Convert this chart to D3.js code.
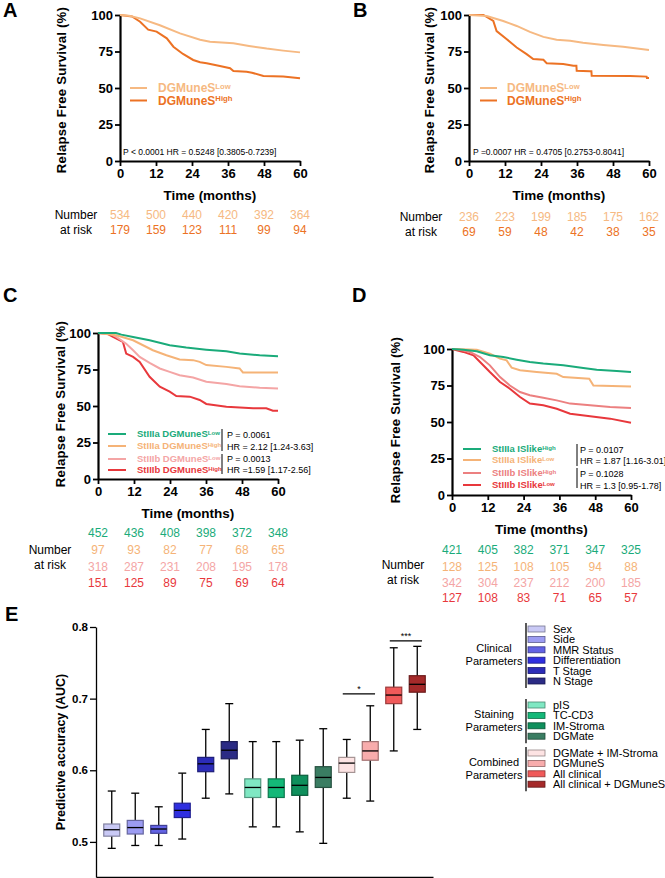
<!DOCTYPE html>
<html>
<head>
<meta charset="utf-8">
<script src="https://cdn.jsdelivr.net/npm/d3@7"></script>
<style>
body { margin: 0; background: #fff; }
svg { display: block; font-family: Arial, "Liberation Sans", sans-serif; }
</style>
</head>
<body>
<svg width="665" height="878"></svg>
<script>
// ---- data ----
const timeTicks = [0, 12, 24, 36, 48, 60];
const survTicks = [0, 25, 50, 75, 100];

// A
const aLow = [[0,100],[3,99.5],[6.7,97.7],[13.3,93],[20,87.4],[26.7,83],[30,81.7],[37.8,80.6],[43,78.8],[48.9,77],[54.4,75.6],[60,74.4]];
const aHigh = [[0,100],[4,99],[6.7,95.4],[9.4,90],[12.2,88.6],[15.6,84],[17.8,78.3],[21,73.3],[24.4,69.2],[26.7,67.6],[28.9,67],[33.3,65],[36.7,63.5],[37.8,61.6],[42.2,61.2],[44,60.5],[47.8,58.2],[54.4,57.8],[60,56.6]];
const aRiskLow = [534, 500, 440, 420, 392, 364];
const aRiskHigh = [179, 159, 123, 111, 99, 94];

// B
const bLow = [[0,100],[5.9,99.3],[11.4,95.9],[15.9,92.5],[20.3,88.4],[24.8,85],[29.2,83],[33.7,82.3],[38,81],[44.8,79.5],[51.4,78.2],[60,76]];
const bHigh = [[0,100],[4.8,100],[8.1,96],[9.2,89],[12.6,83.4],[15.9,77.7],[19.2,73.2],[21.4,69.8],[24.8,69.3],[25.9,67],[31.4,66.4],[34.8,65.2],[35.8,65.2],[35.9,61.8],[40.3,61.4],[40.8,61.4],[40.9,58.4],[53.7,58.2],[59.2,57.8],[59.3,56.8],[60,56.8]];
const bRiskLow = [236, 223, 199, 185, 175, 162];
const bRiskHigh = [69, 59, 48, 42, 38, 35];

// C
const cIIIaLow = [[0,100],[6,100],[7.8,98.9],[11.7,97.3],[17.2,95],[23.9,91.6],[29.4,90],[36.1,88.6],[42.8,87.5],[47.2,85.9],[53.9,84.8],[60,84.1]];
const cIIIaHigh = [[0,100],[6.1,98.4],[11.7,95],[15,91.6],[18.3,88.2],[22.8,84.8],[27.2,81.8],[31.7,81.4],[33.9,80.2],[36.1,78],[42.8,76.8],[47.2,75.7],[48.3,73],[60,73]];
const cIIIbLow = [[0,100],[4,99.5],[6.1,97.3],[9.4,92.7],[11.7,88.2],[13.9,83.6],[17.2,79.5],[20.6,75.7],[23.9,73.4],[27.2,71.1],[31.7,69.5],[36.1,66.6],[42.8,65],[47.2,63.6],[53.9,62.5],[60,62]];
const cIIIbHigh = [[0,100],[3,99.5],[5,97.3],[8.3,93.9],[9.4,85.9],[11.7,83.6],[13.9,80.2],[17.2,70],[20.6,63.2],[23.9,59.8],[26.1,56.8],[30.6,56.4],[33.9,54.1],[36.1,51.4],[42.8,49.5],[51.7,48.4],[56.1,48.4],[58.3,46.8],[60,46.8]];
const cRisk = [
  [452, 436, 408, 398, 372, 348],
  [97, 93, 82, 77, 68, 65],
  [318, 287, 231, 208, 195, 178],
  [151, 125, 89, 75, 69, 64]
];

// D
const dIIIaHigh = [[0,100],[3.8,99.5],[8.3,98.4],[12.7,95.7],[17.2,94.5],[21.7,92.7],[26.1,91.1],[30.6,90],[37.3,88.8],[44,87],[48.5,85.8],[55.2,84.9],[60,84.2]];
const dIIIaLow = [[0,100],[8.3,99.5],[12.7,96.8],[16.1,93.4],[18.3,92.2],[20,87.2],[22.8,85.4],[28.4,84.2],[35.1,83],[37.3,80.8],[46,79.6],[47.4,75],[60,74.4]];
const dIIIbHigh = [[0,100],[1.6,100],[6,98],[9.4,94.5],[12.7,88.8],[16.1,80.8],[19.4,75],[22.8,70.5],[26.1,68.3],[30.6,66.6],[35.1,64.8],[39.6,62.6],[46.3,61.4],[53,60.3],[60,59.6]];
const dIIIbLow = [[0,100],[3.8,98],[7.2,95.7],[9.4,91.1],[12.7,84.2],[16.1,77.4],[19.4,72.8],[22.8,67.1],[26.1,62.6],[30.6,61.4],[35.1,59.1],[39.6,55.7],[46.3,53.9],[53,52.3],[60,49.5]];
const dRisk = [
  [421, 405, 382, 371, 347, 325],
  [128, 125, 108, 105, 94, 88],
  [342, 304, 237, 212, 200, 185],
  [127, 108, 83, 71, 65, 57]
];

// E
const eCategories = ["Sex", "Side", "MMR Status", "Differentiation", "T Stage", "N Stage",
  "pIS", "TC-CD3", "IM-Stroma", "DGMate",
  "DGMate + IM-Stroma", "DGMuneS", "All clinical", "All clinical + DGMuneS"];
const eMin    = [0.491, 0.495, 0.495, 0.504, 0.561, 0.567, 0.521, 0.521, 0.514, 0.498, 0.561, 0.557, 0.627, 0.657];
const eQ1     = [0.508, 0.511, 0.512, 0.534, 0.598, 0.616, 0.562, 0.562, 0.565, 0.576, 0.597, 0.614, 0.693, 0.709];
const eMedian = [0.517, 0.520, 0.518, 0.544, 0.609, 0.628, 0.576, 0.576, 0.579, 0.590, 0.610, 0.627, 0.705, 0.720];
const eQ3     = [0.525, 0.530, 0.523, 0.554, 0.618, 0.640, 0.588, 0.588, 0.593, 0.605, 0.618, 0.640, 0.716, 0.732];
const eMax    = [0.571, 0.568, 0.549, 0.596, 0.657, 0.693, 0.640, 0.640, 0.642, 0.658, 0.643, 0.690, 0.771, 0.773];
const eTicks = [0.5, 0.6, 0.7, 0.8];
const eGroupNames = [["Clinical", "Parameters"], ["Staining", "Parameters"], ["Combined", "Parameters"]];
const eGroupSizes = [6, 4, 4];
const sigFrom = ["DGMate + IM-Stroma", "All clinical"];
const sigTo = ["DGMuneS", "All clinical + DGMuneS"];
const sigLevel = [0.7066, 0.7805];
const sigLabel = ["*", "***"];

// ---- styles ----
const orangeLow = "#f6b982", orangeHigh = "#ec7224";
const green = "#1aab7a", lightOrange = "#f5b377", pink = "#f4a5a5", salmon = "#ec8080", red = "#e8383c";
const eColors = ["#c9c9f5", "#9c9cf2", "#6262e4", "#2f2fe0", "#2c2cb8", "#2b2b85",
  "#7fe8c3", "#14b878", "#0f8f5c", "#3a7d62",
  "#fde3e3", "#f8acac", "#f05a5a", "#a52a2a"];

const svg = d3.select("svg");

function panelLetter(txt, x, y) {
  svg.append("text").attr("x", x).attr("y", y)
    .attr("font-size", 20).attr("font-weight", "bold").text(txt);
}

function drawKM(p) {
  const x = d3.scaleLinear().domain([0, 60]).range([p.x0, p.x1]);
  const y = d3.scaleLinear().domain([0, 100]).range([p.yBot, p.yTop]);
  const g = svg.append("g");

  const xAxis = g.append("g").attr("transform", `translate(0,${p.yBot})`)
    .call(d3.axisBottom(x).tickValues(timeTicks).tickSize(5).tickSizeOuter(0).tickPadding(3));
  const yAxis = g.append("g").attr("transform", `translate(${p.x0},0)`)
    .call(d3.axisLeft(y).tickValues(survTicks).tickSize(5).tickSizeOuter(0).tickPadding(2));
  [xAxis, yAxis].forEach(a => {
    a.select(".domain").attr("stroke-width", 2.2);
    a.selectAll(".tick line").attr("stroke-width", 1.8);
    a.selectAll(".tick text").attr("font-size", 13).attr("font-weight", "bold")
      .attr("font-family", "Arial, 'Liberation Sans', sans-serif").attr("fill", "#000");
  });

  g.append("text").attr("x", (p.x0 + p.x1) / 2).attr("y", p.yBot + 39)
    .attr("text-anchor", "middle").attr("font-size", 13.5).attr("font-weight", "bold")
    .text("Time (months)");
  g.append("text")
    .attr("transform", `translate(${p.yLabelX},${p.yLabelY}) rotate(-90)`)
    .attr("text-anchor", "middle").attr("dominant-baseline", "middle")
    .attr("font-size", 13.2).attr("font-weight", "bold").attr("letter-spacing", 0.2)
    .text("Relapse Free Survival (%)");

  const line = d3.line().x(d => x(d[0])).y(d => y(d[1]));
  // draw last series first so the top entries sit on top
  p.series.slice().reverse().forEach(s => {
    g.append("path").datum(s.data).attr("d", line)
      .attr("fill", "none").attr("stroke", s.color).attr("stroke-width", 2);
  });

  // legend
  p.series.forEach((s, i) => {
    const ly = p.legY[i];
    g.append("line").attr("x1", p.legX0).attr("x2", p.legX1).attr("y1", ly).attr("y2", ly)
      .attr("stroke", s.color).attr("stroke-width", 2);
    const t = g.append("text").attr("x", p.legTextX).attr("y", ly + p.legFont * 0.36)
      .attr("font-size", p.legFont).attr("font-weight", "bold").attr("fill", s.color);
    t.append("tspan").text(s.name);
    t.append("tspan").attr("dy", -p.legFont * 0.3).attr("font-size", p.legFont * 0.64).text(s.sup);
  });

  // stats
  if (p.statBars) {
    p.statBars.forEach(b => {
      g.append("line").attr("x1", p.statBarX).attr("x2", p.statBarX)
        .attr("y1", b[0]).attr("y2", b[1]).attr("stroke", "#000").attr("stroke-width", 1);
    });
  }
  p.stats.forEach(st => {
    g.append("text").attr("x", st.x).attr("y", st.y)
      .attr("font-size", st.size).attr("fill", "#000").text(st.text);
  });

  // number at risk
  p.risk.forEach((row, r) => {
    g.append("g").selectAll("text").data(row).join("text")
      .attr("x", (d, i) => x(timeTicks[i]))
      .attr("y", p.riskY[r] + 4)
      .attr("text-anchor", "middle").attr("font-size", 12)
      .attr("fill", p.riskColors[r]).text(d => d);
  });
  g.append("text").attr("x", p.numX).attr("y", p.numY[0] + 4)
    .attr("text-anchor", "middle").attr("font-size", 12).text("Number");
  g.append("text").attr("x", p.numX).attr("y", p.numY[1] + 4)
    .attr("text-anchor", "middle").attr("font-size", 12).text("at risk");
}

// ---- panel A ----
panelLetter("A", 3, 17);
drawKM({
  x0: 120, x1: 300, yTop: 15, yBot: 161, yLabelX: 63, yLabelY: 90,
  series: [
    { data: aLow, color: orangeLow, name: "DGMuneS", sup: "Low" },
    { data: aHigh, color: orangeHigh, name: "DGMuneS", sup: "High" }
  ],
  legX0: 130, legX1: 147, legTextX: 158, legY: [88, 100.5], legFont: 12,
  stats: [{ x: 123, y: 155, size: 8.5, text: "P < 0.0001 HR = 0.5248 [0.3805-0.7239]" }],
  risk: [aRiskLow, aRiskHigh], riskY: [215, 230], riskColors: [orangeLow, orangeHigh],
  numX: 76, numY: [215, 230]
});

// ---- panel B ----
panelLetter("B", 353, 17);
drawKM({
  x0: 469, x1: 649, yTop: 15, yBot: 161, yLabelX: 431, yLabelY: 90,
  series: [
    { data: bLow, color: orangeLow, name: "DGMuneS", sup: "Low" },
    { data: bHigh, color: orangeHigh, name: "DGMuneS", sup: "High" }
  ],
  legX0: 480, legX1: 497, legTextX: 507, legY: [88, 100.5], legFont: 12,
  stats: [{ x: 473, y: 155, size: 8.5, text: "P =0.0007 HR = 0.4705 [0.2753-0.8041]" }],
  risk: [bRiskLow, bRiskHigh], riskY: [217, 232], riskColors: [orangeLow, orangeHigh],
  numX: 421, numY: [217, 232]
});

// ---- panel C ----
panelLetter("C", 3, 302);
drawKM({
  x0: 98, x1: 278, yTop: 333, yBot: 479, yLabelX: 62, yLabelY: 404,
  series: [
    { data: cIIIaLow, color: green, name: "StIIIa DGMuneS", sup: "Low" },
    { data: cIIIaHigh, color: lightOrange, name: "StIIIa DGMuneS", sup: "High" },
    { data: cIIIbLow, color: pink, name: "StIIIb DGMuneS", sup: "Low" },
    { data: cIIIbHigh, color: red, name: "StIIIb DGMuneS", sup: "High" }
  ],
  legX0: 108, legX1: 126, legTextX: 137, legY: [434, 446, 459, 470], legFont: 9.5,
  statBarX: 222, statBars: [[429, 451], [454, 474]],
  stats: [
    { x: 227, y: 438, size: 9, text: "P = 0.0061" },
    { x: 227, y: 450, size: 9, text: "HR = 2.12 [1.24-3.63]" },
    { x: 227, y: 462, size: 9, text: "P = 0.0013" },
    { x: 227, y: 473, size: 9, text: "HR =1.59 [1.17-2.56]" }
  ],
  risk: cRisk, riskY: [533, 550, 567, 583], riskColors: [green, lightOrange, pink, red],
  numX: 50, numY: [550, 565]
});

// ---- panel D ----
panelLetter("D", 352, 302);
drawKM({
  x0: 452, x1: 631, yTop: 349, yBot: 495, yLabelX: 397, yLabelY: 420,
  series: [
    { data: dIIIaHigh, color: green, name: "StIIIa ISlike", sup: "High" },
    { data: dIIIaLow, color: lightOrange, name: "StIIIa ISlike", sup: "Low" },
    { data: dIIIbHigh, color: salmon, name: "StIIIb ISlike", sup: "High" },
    { data: dIIIbLow, color: red, name: "StIIIb ISlike", sup: "Low" }
  ],
  legX0: 463, legX1: 481, legTextX: 492, legY: [449, 460, 473, 485], legFont: 9.5,
  statBarX: 577, statBars: [[444, 466], [468, 488]],
  stats: [
    { x: 580, y: 453, size: 9, text: "P = 0.0107" },
    { x: 580, y: 464, size: 9, text: "HR = 1.87 [1.16-3.01]" },
    { x: 580, y: 477, size: 9, text: "P = 0.1028" },
    { x: 580, y: 489, size: 9, text: "HR = 1.3 [0.95-1.78]" }
  ],
  risk: dRisk, riskY: [550, 567, 583, 598], riskColors: [green, lightOrange, pink, red],
  numX: 403, numY: [565, 580]
});

// ---- panel E ----
panelLetter("E", 5, 621);
const ex = d3.scaleBand().domain(eCategories).range([96, 433]).paddingInner(0.32).paddingOuter(0.33);
const ey = d3.scaleLinear().domain([0.451, 0.8]).range([877, 627]);
const eg = svg.append("g");

const exAxis = eg.append("g").attr("transform", "translate(0,877)")
  .call(d3.axisBottom(ex).tickSize(0).tickFormat(""));
const eyAxis = eg.append("g").attr("transform", "translate(96,0)")
  .call(d3.axisLeft(ey).tickValues(eTicks).tickFormat(d3.format(".1f")).tickSize(6).tickSizeOuter(0).tickPadding(2));
[exAxis, eyAxis].forEach(a => a.select(".domain").attr("stroke-width", 1.3));
eyAxis.selectAll(".tick line").attr("stroke-width", 1.3);
eyAxis.selectAll(".tick text").attr("font-size", 11.5).attr("font-weight", "bold")
  .attr("font-family", "Arial, 'Liberation Sans', sans-serif").attr("fill", "#000");

eg.append("text").attr("transform", "translate(62,752) rotate(-90)")
  .attr("text-anchor", "middle").attr("dominant-baseline", "middle")
  .attr("font-size", 12.5).attr("font-weight", "bold").text("Predictive accuracy (AUC)");

const bw = ex.bandwidth();
const boxes = eg.append("g").selectAll("g").data(eCategories).join("g")
  .attr("transform", d => `translate(${ex(d) + bw / 2},0)`);
boxes.append("line").attr("x1", 0).attr("x2", 0)
  .attr("y1", (d, i) => ey(eMax[i])).attr("y2", (d, i) => ey(eMin[i]))
  .attr("stroke", "#000").attr("stroke-width", 1.3);
boxes.append("line").attr("x1", -bw / 4).attr("x2", bw / 4)
  .attr("y1", (d, i) => ey(eMax[i])).attr("y2", (d, i) => ey(eMax[i]))
  .attr("stroke", "#000").attr("stroke-width", 1.3);
boxes.append("line").attr("x1", -bw / 4).attr("x2", bw / 4)
  .attr("y1", (d, i) => ey(eMin[i])).attr("y2", (d, i) => ey(eMin[i]))
  .attr("stroke", "#000").attr("stroke-width", 1.3);
boxes.append("rect").attr("x", -bw / 2).attr("width", bw)
  .attr("y", (d, i) => ey(eQ3[i])).attr("height", (d, i) => ey(eQ1[i]) - ey(eQ3[i]))
  .attr("fill", (d, i) => eColors[i])
  .attr("stroke", (d, i) => d3.color(eColors[i]).darker(1.2)).attr("stroke-width", 1.2);
boxes.append("line").attr("x1", -bw / 2).attr("x2", bw / 2)
  .attr("y1", (d, i) => ey(eMedian[i])).attr("y2", (d, i) => ey(eMedian[i]))
  .attr("stroke", "#000").attr("stroke-width", 1.3);

// significance
sigLevel.forEach((lv, i) => {
  const xa = ex(sigFrom[i]) + bw * 0.25, xb = ex(sigTo[i]) + bw * 0.8;
  eg.append("line").attr("x1", xa).attr("x2", xb).attr("y1", ey(lv)).attr("y2", ey(lv))
    .attr("stroke", "#000").attr("stroke-width", 1.2);
  eg.append("text").attr("x", (xa + xb) / 2).attr("y", ey(lv) - 2)
    .attr("text-anchor", "middle").attr("font-size", 9).text(sigLabel[i]);
});

// legend E
const groupStartY = [629, 705, 753];
const rowStep = 10.4;
let k = 0;
eGroupSizes.forEach((n, gi) => {
  const y0 = groupStartY[gi];
  const yLast = y0 + (n - 1) * rowStep;
  eg.append("line").attr("x1", 526).attr("x2", 526).attr("y1", y0 - 6).attr("y2", yLast + 7)
    .attr("stroke", "#000").attr("stroke-width", 1.3);
  const mid = (y0 + yLast) / 2;
  eGroupNames[gi].forEach((nm, li) => {
    eg.append("text").attr("x", 494).attr("y", mid + (li === 0 ? -7 : 6) + 4)
      .attr("text-anchor", "middle").attr("font-size", 11).text(nm);
  });
  for (let j = 0; j < n; j++, k++) {
    const ry = y0 + j * rowStep;
    eg.append("rect").attr("x", 528).attr("y", ry - 3).attr("width", 17).attr("height", 6)
      .attr("fill", eColors[k]).attr("stroke", d3.color(eColors[k]).darker(1.5)).attr("stroke-width", 0.8);
    eg.append("text").attr("x", 553).attr("y", ry + 4).attr("font-size", 11).text(eCategories[k]);
  }
});
</script>
</body>
</html>
